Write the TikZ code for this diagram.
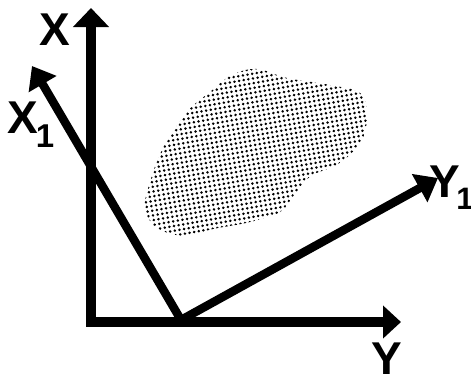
\documentclass[tikz,border=0pt]{standalone}
\usepackage{fontspec}
\setmainfont{Liberation Sans}
\usetikzlibrary{arrows.meta,patterns.meta}
\begin{document}
\begin{tikzpicture}[x=1pt,y=-1pt,
  mainaxis/.style={line width=10pt, {Triangle[length=19pt,width=35pt]}-{Triangle[length=18pt,width=32pt]}},
  rotaxis/.style={line width=8.5pt, -{Triangle[length=21pt,width=31pt]}},
  lab/.style={font=\fontsize{46}{46}\selectfont\bfseries, inner sep=0pt},
  blob/.style={pattern={Dots[distance=4.7pt,radius=1.4pt,angle=10]}, pattern color=black}]
\useasboundingbox (0,0) rectangle (471,376);
% blob
\fill[blob] plot[smooth cycle, tension=0.6] coordinates {
  (257,69) (287,78) (330,85) (360,93) (367,114) (361,142) (338,164)
  (311,176) (294,195) (280,212) (250,222) (213,229) (186,236) (157,228)
  (145,208) (150,182) (163,148) (187,112) (210,92) (232,75)};
% coordinates
\coordinate (xt) at (91,8);
\coordinate (yt) at (401,322);
\coordinate (o1) at (181,320);
\coordinate (x1t) at (32,66);
\coordinate (y1t) at (438,178);
% axes
\draw[mainaxis] (xt) |- (yt);
\draw[rotaxis] (o1) -- (x1t);
\draw[rotaxis] (o1) -- (y1t);
% labels
\node[lab, anchor=base west] (lx) at (39,45) {X};
\node[lab, anchor=base west] (lx1) at (7,133) {X\kern-2pt\raisebox{-14pt}{\fontsize{33}{33}\selectfont\bfseries 1}};
\node[lab, anchor=base west] (ly1) at (429,197) {Y\kern-3.5pt\raisebox{-12pt}{\fontsize{31}{31}\selectfont\bfseries 1}};
\node[lab, anchor=base west] (ly) at (371,374) {Y};
\end{tikzpicture}
\end{document}
